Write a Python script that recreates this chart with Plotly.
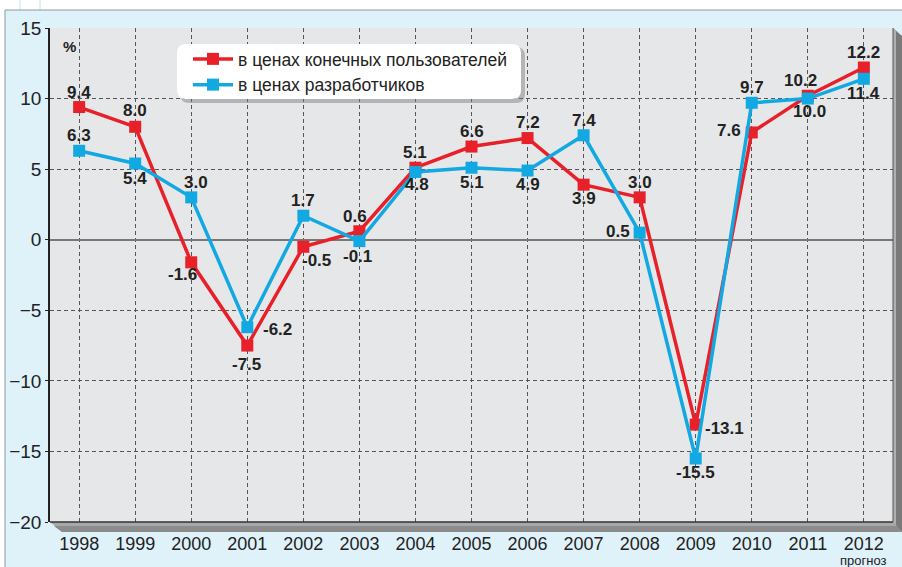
import plotly.graph_objects as go

years = list(range(1998, 2013))
users = [9.4, 8.0, -1.6, -7.5, -0.5, 0.6, 5.1, 6.6, 7.2, 3.9, 3.0, -13.1, 7.6, 10.2, 12.2]
devs = [6.3, 5.4, 3.0, -6.2, 1.7, -0.1, 4.8, 5.1, 4.9, 7.4, 0.5, -15.5, 9.7, 10.0, 11.4]
users_name = "в ценах конечных пользователей"
devs_name = "в ценах разработчиков"
y_ticks = [15, 10, 5, 0, -5, -10, -15, -20]

# label offsets in px (dx, dy with dy positive = down)
users_off = [(0, -15), (0, -16), (-9, 12), (-1, 19), (13, 14), (-4, -15), (0, -15), (0, -15),
             (0, -16), (0, 14), (0, -15), (29, 4), (-23, -2), (-7, -15), (0, -15)]
devs_off = [(0, -15), (0, 15), (5, -15), (30, 2), (0, -15), (-2, 15), (2, 13), (0, 15),
            (0, 14), (0, -15), (-22, -1), (0, 14), (0, -15), (2, 13), (0, 15)]

RED = "#E8202A"
BLUE = "#12A9E3"
FONT = "Arial, Liberation Sans, sans-serif"

# plot area in pixels
L, R, T, B = 50, 893, 28, 522
W, H = 902, 567


def px(x):
    return (x - L) / (R - L)


def py(y):
    return (B - y) / (B - T)


fig = go.Figure()
fig.add_trace(go.Scatter(x=years, y=users, name=users_name, mode="lines+markers",
                         line=dict(color=RED, width=3.5),
                         marker=dict(symbol="square", size=12, color=RED)))
fig.add_trace(go.Scatter(x=years, y=devs, name=devs_name, mode="lines+markers",
                         line=dict(color=BLUE, width=3.5),
                         marker=dict(symbol="square", size=12, color=BLUE)))

for vals, offs in [(users, users_off), (devs, devs_off)]:
    for x, v, (dx, dy) in zip(years, vals, offs):
        fig.add_annotation(x=x, y=v, text=f"<b>{v:.1f}</b>", showarrow=False,
                           xshift=dx, yshift=-dy,
                           font=dict(family=FONT, size=17, color="#222"))

fig.add_annotation(x=px(69), y=py(46), xref="paper", yref="paper", text="<b>%</b>",
                   xanchor="center", yanchor="middle",
                   showarrow=False, font=dict(family=FONT, size=15, color="#222"))
fig.add_annotation(x=2012, y=py(560), xref="x", yref="paper", text="прогноз",
                   xanchor="center", yanchor="middle",
                   showarrow=False, font=dict(family=FONT, size=13, color="#222"))

shapes = []
# white strips outside the blue panel
shapes.append(dict(type="rect", xref="paper", yref="paper", x0=px(0), x1=px(W), y0=py(10), y1=py(0),
                   fillcolor="white", line_width=0, layer="below"))
shapes.append(dict(type="rect", xref="paper", yref="paper", x0=px(0), x1=px(5), y0=py(H), y1=py(0),
                   fillcolor="white", line_width=0, layer="below"))
for xl in (20, 40):
    shapes.append(dict(type="line", xref="paper", yref="paper", x0=px(xl), x1=px(xl), y0=py(10), y1=py(0),
                       line=dict(color="#BFE3F2", width=1)))
shapes.append(dict(type="line", xref="paper", yref="paper", x0=px(5), x1=px(W), y0=py(10), y1=py(10),
                   line=dict(color="#8A9AA3", width=1)))
shapes.append(dict(type="line", xref="paper", yref="paper", x0=px(5), x1=px(5), y0=py(10), y1=py(H),
                   line=dict(color="#8A9AA3", width=1)))


# bevel: bottom shelf and right side
def poly(pts):
    return "M " + " L ".join(f"{px(a)},{py(b)}" for a, b in pts) + " Z"


shapes.append(dict(type="path", xref="paper", yref="paper",
                   path=poly([(L, B), (R, B), (902, 532), (62, 532)]),
                   fillcolor="#A8A8A8", line_width=0))
shapes.append(dict(type="path", xref="paper", yref="paper",
                   path=poly([(L + 4, B + 4), (R + 4, B + 4), (902, 532), (62, 532)]),
                   fillcolor="#8C8C8C", line_width=0))
shapes.append(dict(type="path", xref="paper", yref="paper",
                   path=poly([(R, T), (902, 36), (902, 532), (R, B)]),
                   fillcolor="#7A7A7A", line_width=0))
shapes.append(dict(type="path", xref="paper", yref="paper",
                   path=poly([(R, T), (R + 3, T + 3), (R + 3, B + 3), (R, B)]),
                   fillcolor="#B0B0B0", line_width=0))
shapes.append(dict(type="line", xref="paper", yref="paper", x0=px(L), x1=px(R), y0=py(B), y1=py(B),
                   line=dict(color="#333", width=1.5)))
shapes.append(dict(type="line", xref="paper", yref="paper", x0=px(R), x1=px(R), y0=py(T), y1=py(B),
                   line=dict(color="#555", width=1)))


# legend box with rounded corners and shadow
def rounded(x0, y0, x1, y1, r):
    return (f"M {px(x0 + r)},{py(y0)} L {px(x1 - r)},{py(y0)} Q {px(x1)},{py(y0)} {px(x1)},{py(y0 + r)} "
            f"L {px(x1)},{py(y1 - r)} Q {px(x1)},{py(y1)} {px(x1 - r)},{py(y1)} "
            f"L {px(x0 + r)},{py(y1)} Q {px(x0)},{py(y1)} {px(x0)},{py(y1 - r)} "
            f"L {px(x0)},{py(y0 + r)} Q {px(x0)},{py(y0)} {px(x0 + r)},{py(y0)} Z")


shapes.append(dict(type="path", xref="paper", yref="paper", path=rounded(180, 47, 525, 103, 9),
                   fillcolor="rgba(120,120,120,0.45)", line_width=0))
shapes.append(dict(type="path", xref="paper", yref="paper", path=rounded(177, 44, 521, 99, 9),
                   fillcolor="white", line_width=0))

fig.update_layout(
    width=W, height=H,
    margin=dict(l=L, r=W - R, t=T, b=H - B),
    paper_bgcolor="#DFF2FA", plot_bgcolor="#E6E7E8",
    font=dict(family=FONT, color="#222"),
    shapes=shapes,
    showlegend=True,
    legend=dict(x=px(188), y=py(41), xanchor="left", yanchor="top",
                bgcolor="rgba(0,0,0,0)", font=dict(family=FONT, size=17.5, color="#222"),
                itemwidth=40, tracegroupgap=0),
    xaxis=dict(range=[1997.48, 2012.52], tickvals=years, ticktext=[str(y) for y in years],
               showgrid=True, gridcolor="#555", griddash="4px,3px", gridwidth=1, automargin=False,
               zeroline=False, showline=False, ticks="outside", ticklen=5, tickcolor="#444",
               tickfont=dict(family=FONT, size=18, color="#222")),
    yaxis=dict(range=[-20, 15], tickvals=y_ticks, showgrid=True, gridcolor="#555", automargin=False,
               griddash="4px,3px", gridwidth=1, zeroline=True, zerolinecolor="#777", zerolinewidth=1.5,
               showline=True, linecolor="#222", linewidth=1.5, ticks="outside", ticklen=3,
               tickcolor="#222", tickfont=dict(family=FONT, size=19, color="#222")),
)

fig.write_html("out.html", config={"displayModeBar": False},
               post_script="document.body.style.margin='0';")
